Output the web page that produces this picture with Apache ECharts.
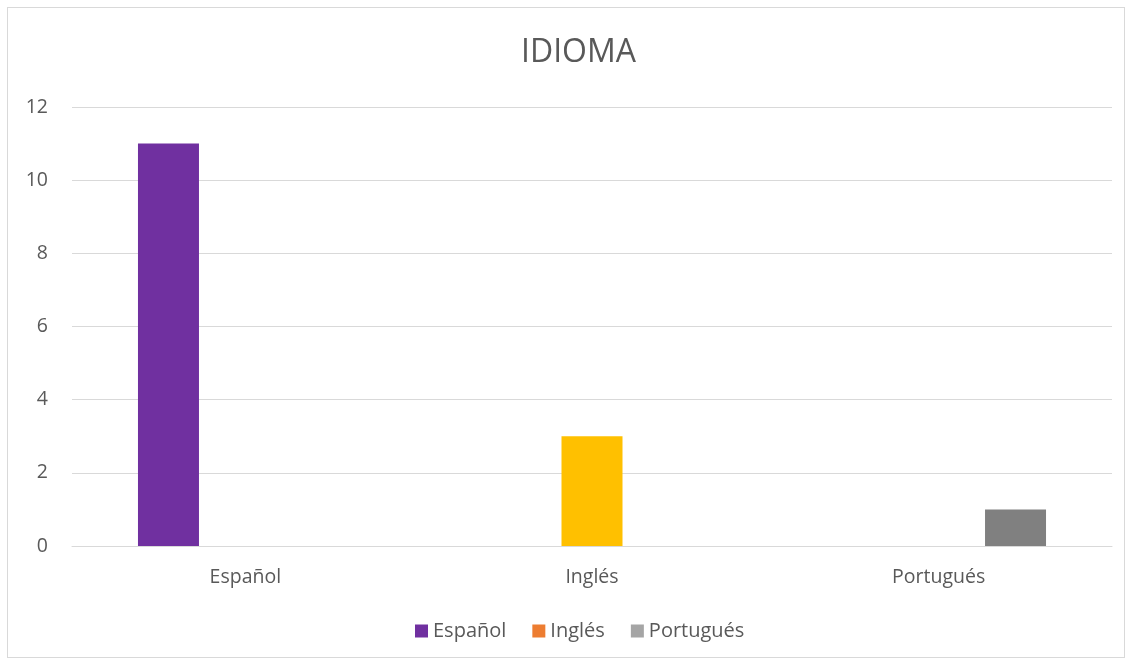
<!DOCTYPE html>
<html>
<head>
<meta charset="utf-8">
<script src="https://cdn.jsdelivr.net/npm/echarts@6/dist/echarts.min.js"></script>
<style>
html,body{margin:0;padding:0;background:#fff;}
#frame{position:absolute;left:7px;top:7px;width:1118px;height:651px;border:1px solid #D9D9D9;box-sizing:border-box;}
#chart{position:absolute;left:0;top:0;width:1134px;height:666px;}
</style>
</head>
<body>
<div id="frame"></div>
<div id="chart"></div>
<script>
const chartTitle = 'IDIOMA';
const categories = ['Español', 'Inglés', 'Portugués'];
const seriesNames = ['Español', 'Inglés', 'Portugués'];
const espanolValues = [11, null, null];
const inglesValues = [null, 3, null];
const portuguesValues = [null, null, 1];
const yTicks = [0, 2, 4, 6, 8, 10, 12];

const FONT = '"Open Sans", "Noto Sans", sans-serif';
const seriesColors = ['#7030A0', '#ED7D31', '#A5A5A5'];
const pointColors = ['#7030A0', '#FFC000', '#808080'];
const allValues = [espanolValues, inglesValues, portuguesValues];

const chart = echarts.init(document.getElementById('chart'), null, {renderer: 'canvas'});
chart.setOption({
  animation: false,
  backgroundColor: 'transparent',
  title: {
    text: chartTitle, left: 516, top: 32,
    textStyle: {fontFamily: FONT, fontSize: 32, fontWeight: 'normal', color: '#595959'}
  },
  legend: {
    left: 410, bottom: 20, itemWidth: 13, itemHeight: 13, itemGap: 26,
    icon: 'rect',
    textStyle: {fontFamily: FONT, fontSize: 20, color: '#595959'},
    data: seriesNames
  },
  grid: {left: 72, right: 22, top: 107, bottom: 120},
  xAxis: {
    type: 'category', data: categories,
    axisLine: {show: true, lineStyle: {color: '#D9D9D9', width: 1}},
    axisTick: {show: false},
    axisLabel: {fontFamily: FONT, fontSize: 19.5, color: '#595959', margin: 21}
  },
  yAxis: {
    type: 'value', min: yTicks[0], max: yTicks[yTicks.length - 1], interval: 2,
    axisLine: {show: false}, axisTick: {show: false},
    axisLabel: {fontFamily: FONT, fontSize: 19.5, color: '#595959', margin: 24},
    splitLine: {lineStyle: {color: '#D9D9D9', width: 1}}
  },
  series: seriesNames.map((name, i) => ({
    name: name, type: 'bar', barWidth: 61, barGap: '26%',
    itemStyle: {color: seriesColors[i]},
    data: allValues[i].map(v => v === null ? '-' : {value: v, itemStyle: {color: pointColors[i]}})
  }))
});
</script>
</body>
</html>
